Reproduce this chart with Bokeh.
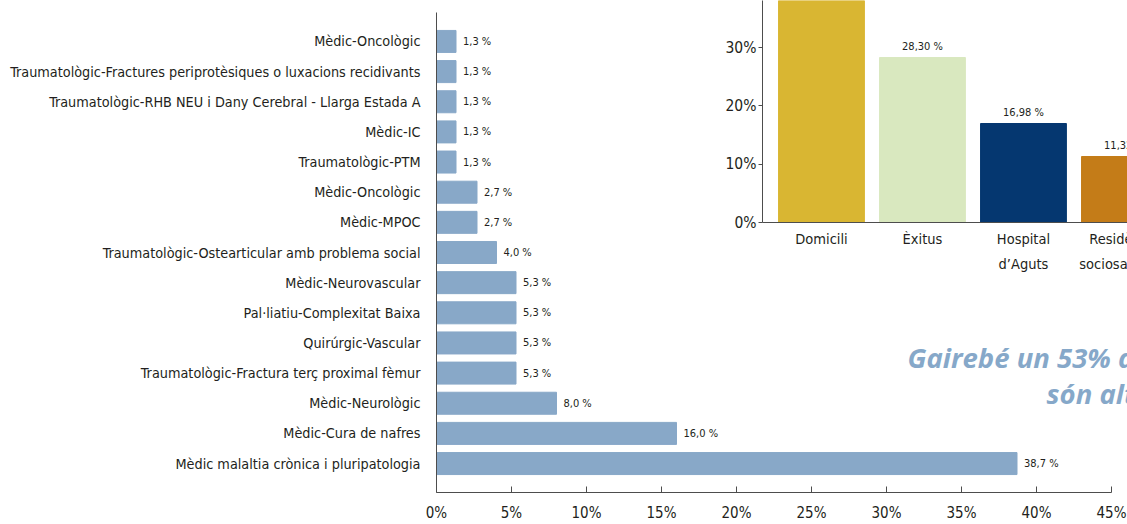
from bokeh.plotting import figure
from bokeh.layouts import column
from bokeh.models import Range1d, FixedTicker, ColumnDataSource, Label
from bokeh.core.properties import value
from bokeh.embed import file_html
from bokeh.resources import INLINE

# ---------------- data ----------------
categories = [
    "Mèdic-Oncològic",
    "Traumatològic-Fractures periprotèsiques o luxacions recidivants",
    "Traumatològic-RHB NEU i Dany Cerebral - Llarga Estada A",
    "Mèdic-IC",
    "Traumatològic-PTM",
    "Mèdic-Oncològic",
    "Mèdic-MPOC",
    "Traumatològic-Ostearticular amb problema social",
    "Mèdic-Neurovascular",
    "Pal·liatiu-Complexitat Baixa",
    "Quirúrgic-Vascular",
    "Traumatològic-Fractura terç proximal fèmur",
    "Mèdic-Neurològic",
    "Mèdic-Cura de nafres",
    "Mèdic malaltia crònica i pluripatologia",
]
values = [1.3, 1.3, 1.3, 1.3, 1.3, 2.7, 2.7, 4.0, 5.3, 5.3, 5.3, 5.3, 8.0, 16.0, 38.7]
x_ticks = [0, 5, 10, 15, 20, 25, 30, 35, 40, 45]

dest_categories = ["Domicili", "Èxitus", "Hospital\nd’Aguts", "Residència\nsociosanitària"]
dest_values = [43.40, 28.30, 16.98, 11.32]
dest_colors = ["#d9b632", "#d9e8bf", "#053770", "#c47c18"]
dest_ticks = [0, 10, 20, 30]

note_line1 = "Gairebé un 53% de les altes"
note_line2 = "són altes a domicili"

FONT = "'DejaVu Sans Condensed', 'Liberation Sans Narrow', 'Roboto Condensed', 'Liberation Sans', sans-serif"
TXT = "#231f20"
AXC = "#4d4d4d"

# layout constants (pixels)
W, H = 1127, 524
MAIN_LEFT, MAIN_TOP, MAIN_BOTTOM = 436, 12, 30
INSET_LEFT, INSET_W, INSET_H, INSET_FRAME_H = 762, 1127 - 762, 290, 222
INSET_X = (-0.584, 3.03)
INSET_Y = (0, 38.08)

# ---------------- main chart ----------------
n = len(categories)
ypos = [n - 1 - i for i in range(n)]
src = ColumnDataSource(dict(
    y=ypos, v=values,
    lbl=[("%.1f" % v).replace(".", ",") + " %" for v in values],
))

p = figure(width=W, height=H, output_backend="svg", toolbar_location=None,
           x_range=Range1d(0, (W - MAIN_LEFT) / 15.0), y_range=Range1d(-0.96, n - 1 + 0.96),
           min_border_left=MAIN_LEFT, min_border_right=0,
           min_border_top=MAIN_TOP, min_border_bottom=MAIN_BOTTOM)
p.outline_line_color = None
p.xgrid.visible = False
p.ygrid.visible = False

p.hbar(y="y", left=0, right="v", height=0.73, source=src, color="#88a8c8")
p.text(x="v", y="y", text="lbl", source=src, x_offset=7, text_baseline="middle",
       text_align="left", text_font=value(FONT), text_font_size="11px", text_color=TXT)

p.yaxis.ticker = FixedTicker(ticks=ypos)
p.yaxis.major_label_overrides = {y: c for y, c in zip(ypos, categories)}
p.yaxis.major_label_text_font = FONT
p.yaxis.major_label_text_font_size = "14.3px"
p.yaxis.major_label_text_color = TXT
p.yaxis.major_tick_line_color = None
p.yaxis.minor_tick_line_color = None
p.yaxis.major_label_standoff = 10
p.yaxis.axis_line_color = AXC

p.xaxis.ticker = FixedTicker(ticks=x_ticks)
p.xaxis.bounds = (0, 45)
p.xaxis.major_label_overrides = {t: "%d%%" % t for t in x_ticks}
p.xaxis.major_label_text_font = FONT
p.xaxis.major_label_text_font_size = "15px"
p.xaxis.major_label_text_color = TXT
p.xaxis.major_tick_in = 6
p.xaxis.major_tick_out = 0
p.xaxis.minor_tick_line_color = None
p.xaxis.major_tick_line_color = AXC
p.xaxis.axis_line_color = AXC
p.xaxis.major_label_standoff = 11

note_color = "#86a8c9"
p.add_layout(Label(x=31.4, y=3.53, text=note_line1, text_font="Open Sans",
                   text_font_style="bold italic", text_font_size="27.5px",
                   text_color=note_color, text_baseline="alphabetic"))
p.add_layout(Label(x=40.67, y=2.34, text=note_line2, text_font="Open Sans",
                   text_font_style="bold italic", text_font_size="27.5px",
                   text_color=note_color, text_baseline="alphabetic"))

# the inset's scales, replicated over the main frame, for the inset's category
# labels (so that they are cut at the window edge like in the original)
sx = INSET_W / (INSET_X[1] - INSET_X[0])
sy = INSET_FRAME_H / (INSET_Y[1] - INSET_Y[0])
frame_h = H - MAIN_TOP - MAIN_BOTTOM
p.extra_x_ranges = {"ix": Range1d(INSET_X[0] - (INSET_LEFT - MAIN_LEFT) / sx, INSET_X[1])}
p.extra_y_ranges = {"iy": Range1d(-(MAIN_TOP + frame_h - INSET_FRAME_H) / sy,
                                  (INSET_FRAME_H - MAIN_TOP) / sy)}
dx = list(range(len(dest_categories)))
p.text(x=dx, y=[0] * len(dx), text=dest_categories, x_range_name="ix", y_range_name="iy",
       y_offset=9, text_baseline="top", text_align="center", text_line_height=1.6,
       text_font=value(FONT), text_font_size="14.5px", text_color=TXT)

# ---------------- inset chart ----------------
dsrc = ColumnDataSource(dict(
    x=dx, v=dest_values, c=dest_colors,
    lbl=[("%.2f" % v).replace(".", ",") + " %" for v in dest_values],
))
q = figure(width=W - (INSET_LEFT - MAIN_LEFT), height=INSET_H, output_backend="svg",
           toolbar_location=None,
           x_range=Range1d(*INSET_X), y_range=Range1d(*INSET_Y),
           min_border_left=MAIN_LEFT, min_border_right=0, min_border_top=0,
           min_border_bottom=INSET_H - INSET_FRAME_H)
q.outline_line_color = None
q.xgrid.visible = False
q.ygrid.visible = False
q.background_fill_alpha = 0
q.border_fill_alpha = 0

q.vbar(x="x", top="v", width=0.85, source=dsrc, color="c")
q.text(x="x", y="v", text="lbl", source=dsrc, y_offset=-5, text_baseline="bottom",
       text_align="center", text_font=value(FONT), text_font_size="11px", text_color=TXT)

q.yaxis.ticker = FixedTicker(ticks=dest_ticks)
q.yaxis.major_label_overrides = {t: "%d%%" % t for t in dest_ticks}
q.yaxis.major_label_text_font = FONT
q.yaxis.major_label_text_font_size = "15.5px"
q.yaxis.major_label_text_color = TXT
q.yaxis.major_tick_in = 0
q.yaxis.major_tick_out = 4
q.yaxis.minor_tick_line_color = None
q.yaxis.major_tick_line_color = AXC
q.yaxis.axis_line_color = AXC
q.yaxis.major_label_standoff = 2

q.xaxis.ticker = FixedTicker(ticks=dx)
q.xaxis.major_label_text_alpha = 0
q.xaxis.major_tick_line_color = None
q.xaxis.minor_tick_line_color = None
q.xaxis.axis_line_color = AXC
q.margin = (-H, 0, 0, INSET_LEFT - MAIN_LEFT)

layout = column(p, q)
open("out.html", "w").write(file_html(layout, INLINE))
